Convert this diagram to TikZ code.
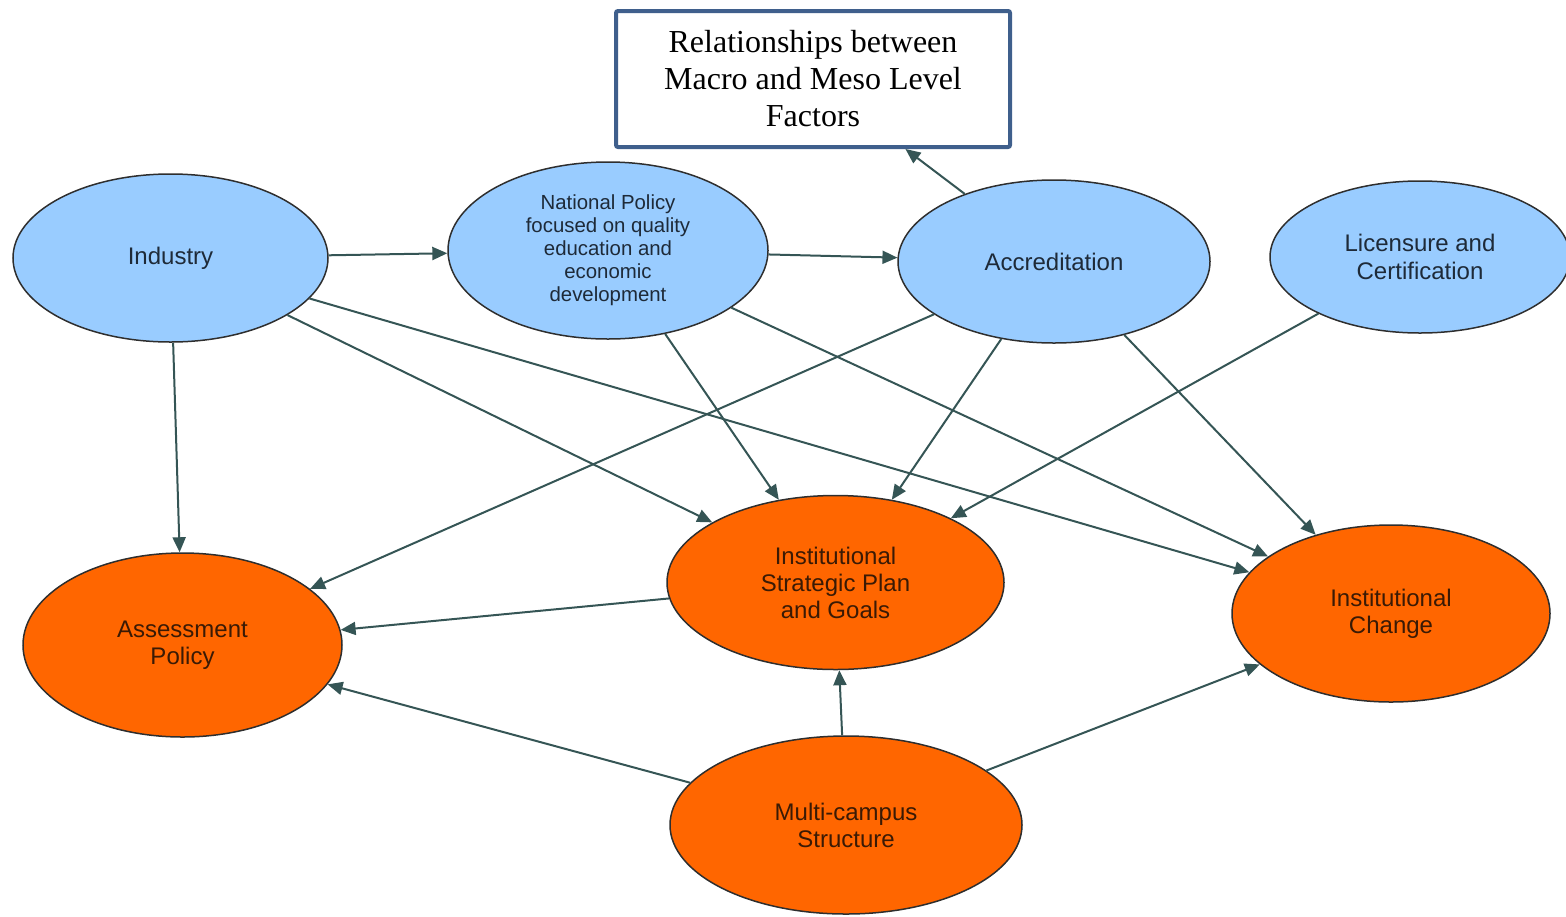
\documentclass[tikz,border=0pt]{standalone}
\usepackage{fontspec}
\setmainfont{Liberation Sans}
\newfontfamily\titlefont{Liberation Serif}
\usetikzlibrary{arrows.meta,shapes.geometric}

\definecolor{macrofill}{HTML}{99CCFF}
\definecolor{mesofill}{HTML}{FF6600}
\definecolor{rimcol}{HTML}{2E2E2E}
\definecolor{linkcol}{HTML}{355555}
\definecolor{boxrim}{HTML}{3F5F8C}
\definecolor{macrotext}{HTML}{1E2A38}
\definecolor{mesotext}{HTML}{3A1A05}

\tikzset{
  factor/.style={ellipse, draw=rimcol, line width=0.75pt, inner sep=0pt,
    align=center, font=\fontsize{12}{13.5}\selectfont},
  macro/.style={factor, fill=macrofill, text=macrotext},
  meso/.style={factor, fill=mesofill, text=mesotext},
  link/.style={draw=linkcol, line width=1pt,
    -{Triangle[length=7.5pt,width=6.5pt]}},
  titlebox/.style={draw=boxrim, line width=2pt, rounded corners=1pt,
    fill=white, minimum width=197pt, minimum height=68pt, align=center,
    font=\titlefont\fontsize{16}{18.5}\selectfont}
}

\begin{document}
\begin{tikzpicture}[x=0.5pt,y=-0.5pt]
  \useasboundingbox (0,0) rectangle (1566,916);

  % heading
  \node[titlebox] (title) at (813,79) {Relationships between\\Macro and Meso Level\\Factors};

  % macro level factors
  \node[macro, minimum width=157.5pt, minimum height=84pt] (ind) at (170.5,258) {Industry};
  \node[macro, minimum width=160pt, minimum height=88.5pt,
        font=\fontsize{10.2}{11.5}\selectfont] (nat) at (608,250.5)
        {National Policy\\focused on quality\\education and\\economic\\development};
  \node[macro, minimum width=156pt, minimum height=81.5pt] (acc) at (1054,261.5) {Accreditation};
  \node[macro, minimum width=150pt, minimum height=76pt,
        font=\fontsize{12}{14}\selectfont] (lic) at (1420,257) {Licensure and\\Certification};

  % meso level factors
  \node[meso, minimum width=159.5pt, minimum height=92pt] (asp) at (182.5,645) {Assessment\\Policy};
  \node[meso, minimum width=168.5pt, minimum height=87pt] (isp) at (835.5,582.5) {Institutional\\Strategic Plan\\and Goals};
  \node[meso, minimum width=159pt, minimum height=88.5pt] (ich) at (1391,613.5) {Institutional\\Change};
  \node[meso, minimum width=176pt, minimum height=89pt] (mcs) at (846,825) {Multi-campus\\Structure};

  % relationships
  \draw[link] (ind) -- (nat);
  \draw[link] (nat) -- (acc);
  \draw[link] (acc) -- (title);
  \draw[link] (ind) -- (asp);
  \draw[link] (ind) -- (isp);
  \draw[link] (ind) -- (ich);
  \draw[link] (nat) -- (isp);
  \draw[link] (nat) -- (ich);
  \draw[link] (acc) -- (asp);
  \draw[link] (acc) -- (isp);
  \draw[link] (acc) -- (ich);
  \draw[link] (lic) -- (isp);
  \draw[link] (isp) -- (asp);
  \draw[link] (mcs) -- (asp);
  \draw[link] (mcs) -- (isp);
  \draw[link] (mcs) -- (ich);
\end{tikzpicture}
\end{document}
